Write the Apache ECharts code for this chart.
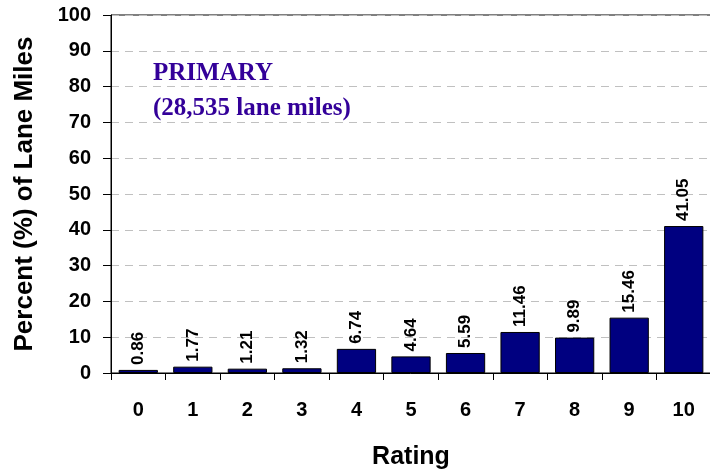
<!DOCTYPE html>
<html>
<head>
<meta charset="utf-8">
<script src="https://cdn.jsdelivr.net/npm/echarts@6/dist/echarts.min.js"></script>
<style>html,body{margin:0;padding:0;background:#fff;}#c{width:710px;height:469px;}</style>
</head>
<body>
<div id="c"></div>
<script>
var categories = ['0','1','2','3','4','5','6','7','8','9','10'];
var values = [0.86, 1.77, 1.21, 1.32, 6.74, 4.64, 5.59, 11.46, 9.89, 15.46, 41.05];
var titleLines = ['PRIMARY', '(28,535 lane miles)'];

var chart = echarts.init(document.getElementById('c'));
chart.setOption({
  animation: false,
  backgroundColor: '#fff',
  grid: { left: 111, top: 15, width: 600, height: 358, show: true, borderColor: '#000', borderWidth: 1, containLabel: false, outerBoundsMode: 'none' },
  graphic: [{
    type: 'text', left: 153, top: 56,
    style: { text: titleLines.join('\n'), font: 'bold 25px "Liberation Serif"', fill: '#330099', lineHeight: 35 }
  }],
  xAxis: {
    type: 'category', data: categories,
    name: 'Rating', nameLocation: 'middle', nameGap: 72,
    nameTextStyle: { fontFamily: 'Liberation Sans', fontWeight: 'bold', fontSize: 25, color: '#000' },
    axisLine: { lineStyle: { color: '#000', width: 1 } },
    axisTick: { show: true, alignWithLabel: false, length: 7, inside: false, lineStyle: { color: '#000' } },
    axisLabel: { fontFamily: 'Liberation Sans', fontWeight: 'bold', fontSize: 20, color: '#000', margin: 27 }
  },
  yAxis: {
    type: 'value', min: 0, max: 100, interval: 10,
    name: 'Percent (%) of Lane Miles', nameLocation: 'middle', nameGap: 73, nameRotate: 90,
    nameTextStyle: { fontFamily: 'Liberation Sans', fontWeight: 'bold', fontSize: 26, color: '#000' },
    axisLine: { show: true, lineStyle: { color: '#000', width: 1 } },
    axisTick: { show: true, length: 8, lineStyle: { color: '#000' } },
    axisLabel: { fontFamily: 'Liberation Sans', fontWeight: 'bold', fontSize: 20, color: '#000', margin: 20 },
    splitLine: { show: true, lineStyle: { color: '#c0c0c0', type: [8, 6], width: 1 } }
  },
  series: [{
    type: 'bar', data: values, barCategoryGap: '28%',
    itemStyle: { color: '#000080', borderColor: '#000', borderWidth: 1 },
    label: {
      show: true, position: 'top', rotate: 90, align: 'left', verticalAlign: 'middle', distance: 5,
      fontFamily: 'Liberation Sans', fontWeight: 'bold', fontSize: 17, color: '#000',
      formatter: function (p) { return p.value.toFixed(2); }
    }
  }]
});
</script>
</body>
</html>
